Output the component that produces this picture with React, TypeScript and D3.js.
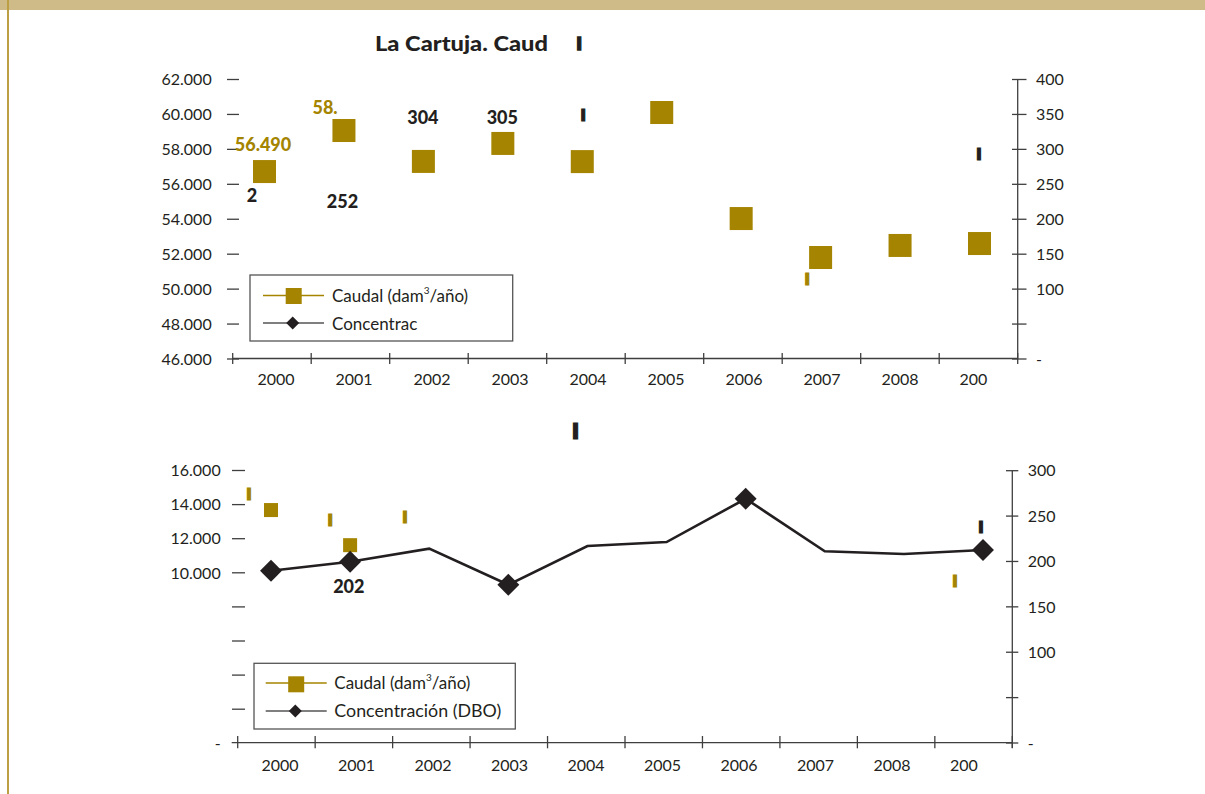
import React from "react";
import * as d3 from "d3";

// ---------- data ----------
const years = ["2000", "2001", "2002", "2003", "2004", "2005", "2006", "2007", "2008", "2009"];
const yearLabels = ["2000", "2001", "2002", "2003", "2004", "2005", "2006", "2007", "2008", "200"];

// top chart: caudal (left axis)
const caudalTop = [56730, 59080, 57310, 58340, 57300, 60110, 54040, 51810, 52500, 52610];
const leftTicksTop = [46000, 48000, 50000, 52000, 54000, 56000, 58000, 60000, 62000];
const rightTicksTop = [0, 50, 100, 150, 200, 250, 300, 350, 400];

// bottom chart
const caudalBottom: (number | null)[] = [13680, 11620, null, null, null, null, null, null, null, null];
const dboBottom = [189.8, 199.7, 214.1, 174.4, 217.0, 221.4, 269.1, 211.2, 208.2, 212.6];
const dboMarked = [true, true, false, true, false, false, true, false, false, true];
const leftTicksBottom = [0, 2000, 4000, 6000, 8000, 10000, 12000, 14000, 16000];
const rightTicksBottom = [0, 50, 100, 150, 200, 250, 300];

// data labels (value = label baseline in axis units)
type Lbl = { year: string; text: string; axis: "L" | "R"; v: number; dx: number; anchor: string; color: string };
const OLIVE = "#A48400";
const INK = "#231F20";
const topLabels: Lbl[] = [
  { year: "2000", text: "56.490", axis: "L", v: 57907, dx: -1.5, anchor: "middle", color: OLIVE },
  { year: "2001", text: "58.", axis: "L", v: 60025, dx: -31.5, anchor: "start", color: OLIVE },
  { year: "2000", text: "2", axis: "R", v: 225, dx: -17.8, anchor: "start", color: INK },
  { year: "2001", text: "252", axis: "R", v: 216, dx: -1.5, anchor: "middle", color: INK },
  { year: "2002", text: "304", axis: "R", v: 336, dx: -0.5, anchor: "middle", color: INK },
  { year: "2003", text: "305", axis: "R", v: 336, dx: -0.5, anchor: "middle", color: INK },
];
const topFragments: Lbl[] = [
  { year: "2004", text: "I", axis: "R", v: 340, dx: 1, anchor: "middle", color: INK },
  { year: "2009", text: "I", axis: "R", v: 284, dx: -0.5, anchor: "middle", color: INK },
  { year: "2007", text: "I", axis: "L", v: 50180, dx: -13.5, anchor: "middle", color: OLIVE },
];
const bottomLabels: Lbl[] = [
  { year: "2001", text: "202", axis: "R", v: 165, dx: -1.3, anchor: "middle", color: INK },
];
const bottomFragments: Lbl[] = [
  { year: "2000", text: "I", axis: "L", v: 14250, dx: -22, anchor: "middle", color: OLIVE },
  { year: "2001", text: "I", axis: "L", v: 12700, dx: -20, anchor: "middle", color: OLIVE },
  { year: "2002", text: "I", axis: "L", v: 12900, dx: -24.2, anchor: "middle", color: OLIVE },
  { year: "2009", text: "I", axis: "L", v: 9130, dx: -28, anchor: "middle", color: OLIVE },
  { year: "2009", text: "I", axis: "R", v: 230.6, dx: -2, anchor: "middle", color: INK },
];

// ---------- styling ----------
const W = 1205;
const H = 794;
const AX = "#3f3f3f";
const LEG = "#555555";
const FONT = "Lato, 'Open Sans', sans-serif";

const loc = d3.formatLocale({ decimal: ",", thousands: ".", grouping: [3], currency: ["", ""] });
const fmtK = loc.format(",.0f");

export default function App() {
  // top scales
  const xBandT = d3.scaleBand<string>().domain(years).range([232.7, 1017.7]);
  const xMarkT = d3.scalePoint<string>().domain(years).range([264.5, 979.5]);
  const xLabT = d3.scalePoint<string>().domain(years).range([276, 978]);
  const yLT = d3.scaleLinear().domain([46000, 62000]).range([359, 79.5]);
  const yRT = d3.scaleLinear().domain([0, 400]).range([359, 79.5]);

  // bottom scales
  const xBandB = d3.scaleBand<string>().domain(years).range([237.7, 1012.3]);
  const xMarkB = d3.scalePoint<string>().domain(years).range([271, 983]);
  const xLabB = d3.scalePoint<string>().domain(years).range([280, 968.5]);
  const yLB = d3.scaleLinear().domain([0, 16000]).range([743.3, 470.5]);
  const yRB = d3.scaleLinear().domain([0, 300]).range([743, 470.7]);

  const lineB = d3
    .line<number>()
    .x((_, i) => xMarkB(years[i]) as number)
    .y((d) => yRB(d));

  const diamond = (side: number) => d3.symbol().type(d3.symbolSquare).size(side * side)() as string;

  const frag = (l: Lbl, xs: any, yl: any, yr: any, fs: number, sw: number, k: number) => (
    <text
      key={"f" + k}
      x={xs(l.year) + l.dx}
      y={(l.axis === "L" ? yl(l.v) : yr(l.v)) - sw / 2}
      textAnchor="middle"
      fontFamily="'DejaVu Sans', sans-serif"
      fontWeight="bold"
      fontSize={fs}
      fill={l.color}
      stroke={l.color}
      strokeWidth={sw}
    >
      I
    </text>
  );

  const lbl = (l: Lbl, xs: any, yl: any, yr: any, k: number) => (
    <text
      key={"l" + k}
      x={xs(l.year) + l.dx}
      y={l.axis === "L" ? yl(l.v) : yr(l.v)}
      textAnchor={l.anchor}
      fontWeight={900}
      fontSize={18}
      fill={l.color}
    >
      {l.text}
    </text>
  );

  const leftLabel = (v: number, blankBelow: number) => (v === 0 ? "-" : v < blankBelow ? "" : fmtK(v));
  const rightLabel = (v: number) => (v === 0 ? "-" : v === 50 ? "" : String(v));

  return (
    <svg
      width={W}
      height={H}
      style={{ position: "absolute", left: 0, top: 0, background: "#fff" }}
      fontFamily={FONT}
    >
      {/* page decoration */}
      <rect x={0} y={0} width={W} height={10} fill="#CFBB88" />
      <rect x={7} y={0} width={2} height={H} fill="#BC9E45" />

      {/* ================= TOP CHART ================= */}
      <text x={375} y={51} fontSize={20} fontWeight={900} fill={INK} textLength={173} lengthAdjust="spacingAndGlyphs">
        La Cartuja. Caud
      </text>
      <text x={579.2} y={50.4} textAnchor="middle" fontFamily="'DejaVu Sans', sans-serif" fontWeight="bold" fontSize={17} fill={INK} stroke={INK} strokeWidth={1.3}>
        I
      </text>

      {/* left ticks + labels */}
      {leftTicksTop.map((v) => (
        <g key={"lt" + v}>
          <line x1={227} x2={239} y1={yLT(v)} y2={yLT(v)} stroke={AX} strokeWidth={1.3} />
          <text x={211.7} y={yLT(v)} dy="0.36em" textAnchor="end" fontSize={16} fill={INK}>
            {fmtK(v)}
          </text>
        </g>
      ))}
      {/* right axis */}
      <line x1={1017.7} x2={1017.7} y1={yRT(400)} y2={yRT(0)} stroke={AX} strokeWidth={1.3} />
      {rightTicksTop.map((v) => (
        <g key={"rt" + v}>
          <line x1={1012} x2={1026.5} y1={yRT(v)} y2={yRT(v)} stroke={AX} strokeWidth={1.3} />
          <text x={1036} y={yRT(v)} dy="0.36em" fontSize={16} fill={INK}>
            {rightLabel(v)}
          </text>
        </g>
      ))}
      {/* x axis */}
      <line x1={232.7} x2={1017.7} y1={358.5} y2={358.5} stroke={AX} strokeWidth={1.3} />
      {[...years.map((y) => xBandT(y) as number), 1017.7].map((x, i) => (
        <line key={"xt" + i} x1={x} x2={x} y1={353} y2={364} stroke={AX} strokeWidth={1.3} />
      ))}
      {years.map((y, i) => (
        <text key={"xl" + y} x={(xLabT(y) as number) - 18.5} y={385} fontSize={16} fill={INK}>
          {yearLabels[i]}
        </text>
      ))}

      {/* caudal squares */}
      {caudalTop.map((v, i) => (
        <rect key={"sq" + i} x={(xMarkT(years[i]) as number) - 11.5} y={yLT(v) - 11.5} width={23} height={23} fill={OLIVE} />
      ))}
      {topLabels.map((l, k) => lbl(l, xMarkT, yLT, yRT, k))}
      {topFragments.map((l, k) => frag(l, xMarkT, yLT, yRT, 15.8, 1.2, k))}

      {/* legend top */}
      <rect x={250} y={275} width={262.7} height={66} fill="#fff" stroke={LEG} strokeWidth={1.3} />
      <line x1={263} x2={324} y1={295.5} y2={295.5} stroke={OLIVE} strokeWidth={1.3} />
      <rect x={285.7} y={288} width={16} height={16} fill={OLIVE} />
      <text x={332} y={302} fontSize={17} fill={INK}>
        Caudal (dam<tspan fontSize={10} dy={-8}>3</tspan>
        <tspan dy={8}>/año)</tspan>
      </text>
      <line x1={263} x2={324} y1={323} y2={323} stroke={LEG} strokeWidth={1.3} />
      <path d={diamond(9.2)} transform={`translate(292.7,323) rotate(45)`} fill={INK} />
      <text x={332} y={330} fontSize={17} fill={INK}>
        Concentrac
      </text>

      {/* ================= BOTTOM CHART ================= */}
      <text x={575.5} y={438.5} textAnchor="middle" fontFamily="'DejaVu Sans', sans-serif" fontWeight="bold" fontSize={21.5} fill={INK} stroke={INK} strokeWidth={1.2}>
        I
      </text>

      {leftTicksBottom.map((v) => (
        <g key={"lb" + v}>
          {v !== 0 && <line x1={232} x2={245} y1={yLB(v)} y2={yLB(v)} stroke={AX} strokeWidth={1.3} />}
          <text x={220.7} y={yLB(v)} dy="0.36em" textAnchor="end" fontSize={16} fill={INK}>
            {leftLabel(v, 10000)}
          </text>
        </g>
      ))}
      <line x1={1012.3} x2={1012.3} y1={yRB(300)} y2={yRB(0) + 5} stroke={AX} strokeWidth={1.3} />
      {rightTicksBottom.map((v) => (
        <g key={"rb" + v}>
          <line x1={1006} x2={1018.3} y1={yRB(v)} y2={yRB(v)} stroke={AX} strokeWidth={1.3} />
          <text x={1027.7} y={yRB(v)} dy="0.36em" fontSize={16} fill={INK}>
            {rightLabel(v)}
          </text>
        </g>
      ))}
      <line x1={231.7} x2={1012.3} y1={742.7} y2={742.7} stroke={AX} strokeWidth={1.3} />
      {[...years.map((y) => xBandB(y) as number), 1012.3].map((x, i) => (
        <line key={"xb" + i} x1={x} x2={x} y1={736} y2={748.3} stroke={AX} strokeWidth={1.3} />
      ))}
      {years.map((y, i) => (
        <text key={"xlb" + y} x={(xLabB(y) as number) - 18.5} y={770.5} fontSize={16} fill={INK}>
          {yearLabels[i]}
        </text>
      ))}

      {/* caudal squares bottom */}
      {caudalBottom.map((v, i) =>
        v == null ? null : (
          <rect key={"sqb" + i} x={(xMarkB(years[i]) as number) - 7} y={yLB(v) - 7} width={14} height={14} fill={OLIVE} />
        )
      )}
      {/* DBO line */}
      <path d={lineB(dboBottom) as string} fill="none" stroke={INK} strokeWidth={2.6} strokeLinejoin="miter" />
      {dboBottom.map((v, i) =>
        dboMarked[i] ? (
          <path
            key={"dm" + i}
            d={diamond(15.5)}
            transform={`translate(${xMarkB(years[i])},${yRB(v)}) rotate(45)`}
            fill={INK}
          />
        ) : null
      )}
      {bottomLabels.map((l, k) => lbl(l, xMarkB, yLB, yRB, k))}
      {bottomFragments.map((l, k) => frag(l, xMarkB, yLB, yRB, 15.8, 1.2, k))}

      {/* legend bottom */}
      <rect x={254} y={663.3} width={261.3} height={65.7} fill="none" stroke={LEG} strokeWidth={1.3} />
      <line x1={265.7} x2={326.7} y1={683} y2={683} stroke={OLIVE} strokeWidth={1.3} />
      <rect x={288.2} y={676.3} width={16} height={16} fill={OLIVE} />
      <text x={334.3} y={689.3} fontSize={17} fill={INK}>
        Caudal (dam<tspan fontSize={10} dy={-8}>3</tspan>
        <tspan dy={8}>/año)</tspan>
      </text>
      <line x1={265.7} x2={326.7} y1={711} y2={711} stroke={LEG} strokeWidth={1.3} />
      <path d={diamond(9.2)} transform={`translate(295.3,711) rotate(45)`} fill={INK} />
      <text x={334.3} y={717.3} fontSize={17} fill={INK} textLength={167} lengthAdjust="spacingAndGlyphs">
        Concentración (DBO)
      </text>
    </svg>
  );
}
